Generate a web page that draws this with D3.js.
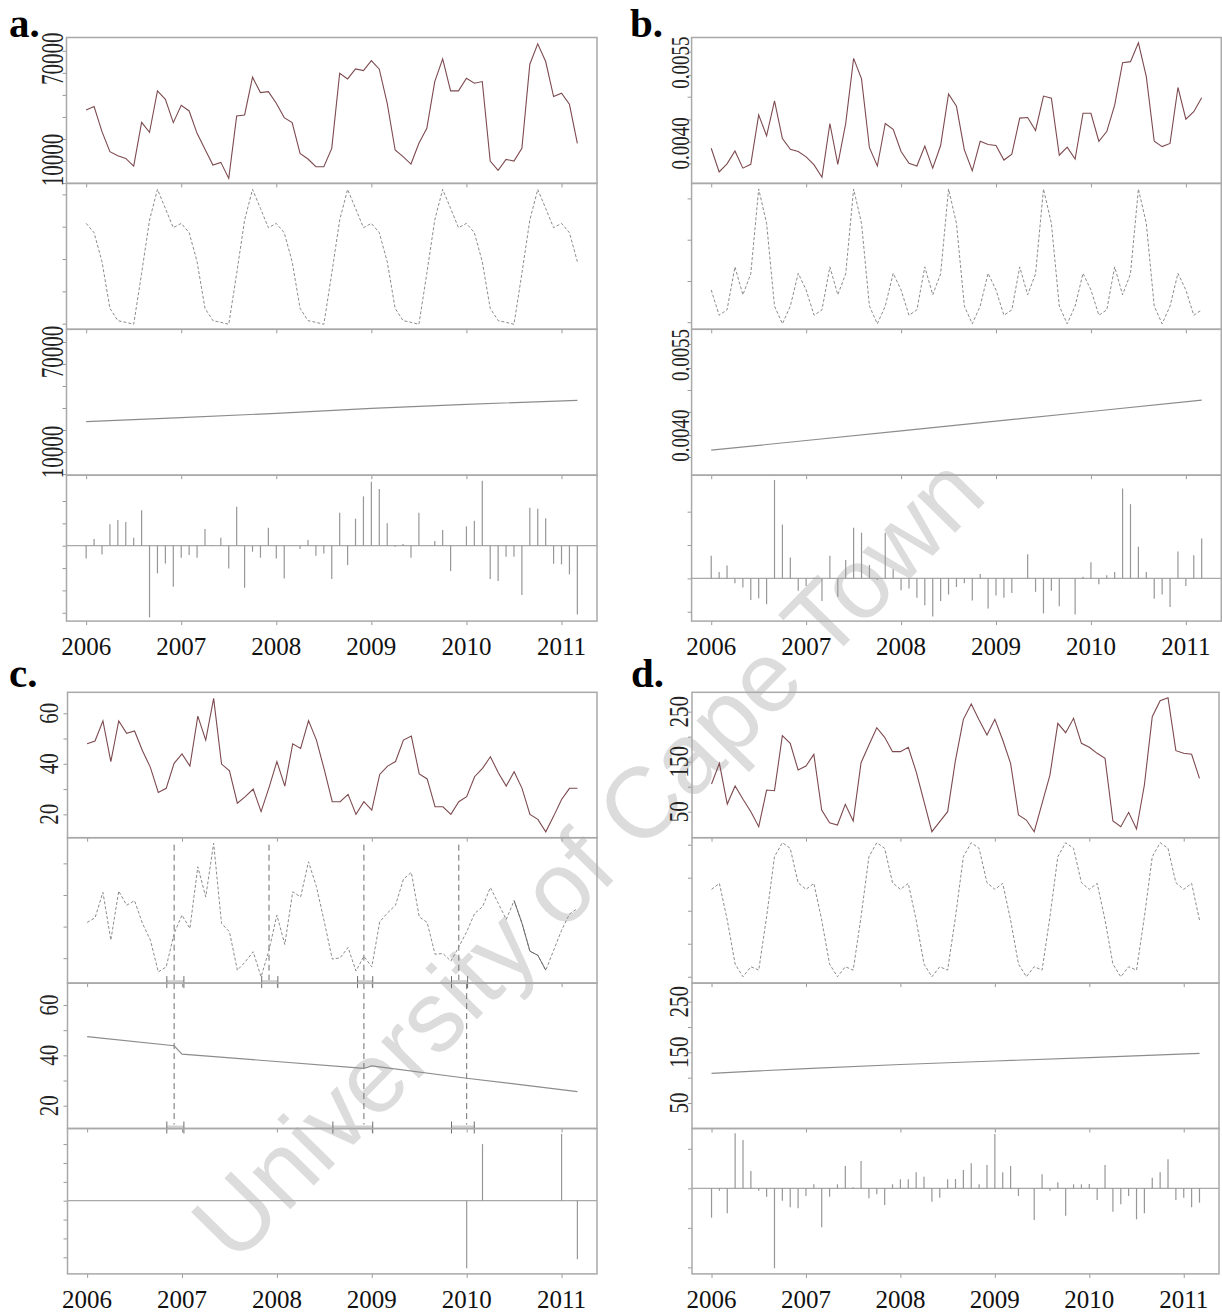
<!DOCTYPE html>
<html>
<head>
<meta charset="utf-8">
<script src="https://cdn.jsdelivr.net/npm/d3@7"></script>
<style>
  body { margin: 0; background: #fff; }
  svg { display: block; }
  .box { fill: none; stroke: #a9a9a9; stroke-width: 1.5; }
  .zero { stroke: #a9a9a9; stroke-width: 1.2; }
  .data-line { fill: none; stroke: #7d4a4f; stroke-width: 1.1; }
  .season-line { fill: none; stroke: #8c8c8c; stroke-width: 1; stroke-dasharray: 3,2; }
  .trend-line { fill: none; stroke: #8c8c8c; stroke-width: 1.2; }
  .rem-bar { stroke: #979797; stroke-width: 1.2; }
  .brk { stroke: #6e6e6e; stroke-width: 1; stroke-dasharray: 6,4; }
  .letter { font-family: "Liberation Serif", "DejaVu Serif", serif; font-weight: bold; font-size: 41px; fill: #000; }
  .xlab { font-family: "Liberation Serif", "DejaVu Serif", serif; font-size: 25px; fill: #111; }
  .ylab { font-family: "Liberation Serif", "DejaVu Serif", serif; fill: #222; }
  .mark { font-family: "Liberation Sans", Arial, sans-serif; font-size: 100px; fill: #dcdcdc; }
</style>
</head>
<body>
<svg width="1222" height="1314"></svg>
<script>
// monthly series, Jan 2006 .. Mar 2011
const yearTicks = [2006, 2007, 2008, 2009, 2010, 2011];
const dates = d3.range(63).map(i => 2006 + i / 12);

// ---- a. ----
const aData = [39700, 41680, 26830, 14950, 12570, 10990, 6440, 32370, 26430, 50990, 46040, 32180,
  42470, 39110, 25840, 16340, 7030, 8610, -890, 36140, 36730, 59100, 50000, 50590,
  43660, 35150, 32180, 13960, 10590, 6040, 6040, 16930, 61480, 58110, 64050, 63060,
  69000, 63860, 43660, 15940, 11980, 7620, 19900, 28810, 56530, 70000, 50990, 50990,
  58510, 55540, 56530, 9410, 3860, 10400, 9410, 16930, 66830, 78900, 68410, 47620,
  49600, 43070, 19900];
const aSeasonal = [19800, 14260, -2970, -30690, -38020, -39010, -40190, -9900, 21780, 40000, 28710, 17230,
  19800, 14260, -2970, -30690, -38020, -39010, -40190, -9900, 21780, 40000, 28710, 17230,
  19800, 14260, -2970, -30690, -38020, -39010, -40190, -9900, 21780, 40000, 28710, 17230,
  19800, 14260, -2970, -30690, -38020, -39010, -40190, -9900, 21780, 40000, 28710, 17230,
  19800, 14260, -2970, -30690, -38020, -39010, -40190, -9900, 21780, 40000, 28710, 17230,
  19800, 14260, -2970];
const aTrendDates = [2006, 2007, 2008, 2009, 2010, 2011.167];
const aTrendValues = [28200, 30600, 33200, 36200, 38600, 41000];
const aRemainder = [-7600, 4000, -5200, 12800, 15400, 14200, 4800, 21200, -43000, -16600, -10600, -24600,
  -7200, -5600, -7200, 10000, 400, 4800, -13600, 23400, -25200, -3600, -7200, 10800,
  -7600, -19600, 200, -2000, 3400, -6000, -4600, -20000, 19800, -11600, 16200, 29600,
  38400, 34000, 13400, -600, 1000, -7200, 19800, 200, 2800, 9400, -15200, 300,
  11600, 15000, 39000, -20000, -21200, -6600, -6600, -29600, 22800, 22200, 16400, -10800,
  -11200, -17200, -41200];
const aAxisLabels = [10000, 70000];

// ---- b. ----
const bData = [0.00391, 0.00347, 0.00362, 0.00386, 0.00354, 0.00361, 0.00453, 0.00414, 0.00479, 0.00409, 0.00389, 0.00385,
  0.00375, 0.00360, 0.00337, 0.00437, 0.00361, 0.00437, 0.00558, 0.00520, 0.00392, 0.00358, 0.00437, 0.00426,
  0.00385, 0.00363, 0.00358, 0.00395, 0.00354, 0.00396, 0.00492, 0.00469, 0.00388, 0.00349, 0.00404, 0.00398,
  0.00396, 0.00369, 0.00380, 0.00447, 0.00448, 0.00424, 0.00488, 0.00484, 0.00378, 0.00393, 0.00371, 0.00456,
  0.00456, 0.00404, 0.00422, 0.00471, 0.00550, 0.00552, 0.00587, 0.00524, 0.00404, 0.00394, 0.00400, 0.00504,
  0.00445, 0.00459, 0.00485];
const bSeasonal = [-0.00062, -0.00109, -0.00099, -0.00019, -0.00071, -0.00032, 0.00126, 0.00062, -0.00092, -0.00125, -0.00092, -0.00031,
  -0.00062, -0.00109, -0.00099, -0.00019, -0.00071, -0.00032, 0.00126, 0.00062, -0.00092, -0.00125, -0.00092, -0.00031,
  -0.00062, -0.00109, -0.00099, -0.00019, -0.00071, -0.00032, 0.00126, 0.00062, -0.00092, -0.00125, -0.00092, -0.00031,
  -0.00062, -0.00109, -0.00099, -0.00019, -0.00071, -0.00032, 0.00126, 0.00062, -0.00092, -0.00125, -0.00092, -0.00031,
  -0.00062, -0.00109, -0.00099, -0.00019, -0.00071, -0.00032, 0.00126, 0.00062, -0.00092, -0.00125, -0.00092, -0.00031,
  -0.00062, -0.00109, -0.00099];
const bTrendDates = [2006, 2007, 2008, 2009, 2010, 2011.167];
const bTrendValues = [0.00373, 0.00391, 0.00409, 0.00427, 0.00445, 0.00466];
const bRemainder = [0.00042, 0.00012, 0.00024, -0.00009, -0.00017, -0.00040, -0.00037, -0.00048, 0.00183, 0.00100, 0.00039, -0.00023,
  -0.00014, 0.00001, -0.00042, 0.00042, -0.00034, 0.00034, 0.00094, 0.00085, 0.00025, -0.00003, 0.00085, 0.00017,
  -0.00022, -0.00019, -0.00036, -0.00050, -0.00071, -0.00042, -0.00030, -0.00016, -0.00009, -0.00041, 0.00008, -0.00056,
  -0.00032, -0.00036, -0.00027, 0.00000, 0.00045, -0.00025, -0.00065, -0.00023, -0.00052, 0.00000, -0.00067, 0.00003,
  0.00030, -0.00011, 0.00006, 0.00012, 0.00167, 0.00138, 0.00059, 0.00012, -0.00038, -0.00030, -0.00053, 0.00050,
  -0.00014, 0.00043, 0.00074];
const bAxisLabels = [0.0040, 0.0055];

// ---- c. ----
const cData = [47.9, 49.0, 57.0, 40.9, 57.0, 52.1, 53.0, 45.2, 38.6, 28.7, 30.3, 40.2,
  43.9, 39.1, 58.9, 49.4, 65.9, 39.9, 37.2, 24.4, 27.0, 30.0, 21.1, 30.6,
  40.9, 31.2, 47.9, 46.1, 57.1, 49.4, 37.6, 25.0, 25.0, 27.9, 20.0, 25.0,
  21.7, 35.8, 39.1, 40.9, 49.4, 51.0, 36.0, 34.0, 23.0, 23.0, 20.0, 25.0,
  27.0, 34.9, 38.2, 42.8, 36.5, 31.2, 36.9, 30.3, 20.0, 18.0, 13.1, 19.3,
  25.9, 30.3, 30.3];
const cSeasonal = [-4.6, -2.8, 7.3, -11.6, 7.8, 2.2, 4.0, -5.0, -11.6, -24.2, -22.2, -9.0,
  -1.7, -7.0, 17.4, 5.5, 26.7, -5.0, -8.3, -23.5, -20.2, -16.2, -26.1, -15.6,
  -1.7, -13.3, 7.5, 5.5, 19.4, 9.5, -4.4, -19.1, -18.6, -14.5, -23.8, -18.0,
  -22.2, -4.4, -0.8, 2.2, 12.5, 15.2, -2.4, -4.6, -17.2, -16.9, -19.9, -14.3,
  -8.3, -1.1, 1.6, 9.2, 2.9, -3.4, 4.0, -5.0, -16.0, -17.6, -23.5, -15.6,
  -7.7, -1.3, 0.9];
const cTrendDates = [2006, 2006.917, 2007, 2008.917, 2009, 2010, 2011.167];
const cTrendValues = [47.4, 43.8, 40.5, 34.8, 35.8, 30.9, 25.6];
const cRemainder = [0, 0, 0, 0, 0, 0, 0, 0, 0, 0, 0, 0,
  0, 0, 0, 0, 0, 0, 0, 0, 0, 0, 0, 0,
  0, 0, 0, 0, 0, 0, 0, 0, 0, 0, 0, 0,
  0, 0, 0, 0, 0, 0, 0, 0, 0, 0, 0, 0,
  -26.9, 0, 22.5, 0, 0, 0, 0, 0, 0, 0, 0, 0,
  26.5, 0, -23.3];
const cAxisLabels = [20, 40, 60];
// breakpoints and their confidence intervals
const cSeasonBreaks = [2006.917, 2007.917, 2008.917, 2009.917];
const cSeasonCI = [[2006.84, 2007.02], [2007.84, 2008.01], [2008.85, 2009.01], [2009.84, 2010.01]];
const cTrendBreaks = [2006.917, 2008.917, 2010.0];
const cTrendCI = [[2006.84, 2007.02], [2008.59, 2009.01], [2009.84, 2010.08]];

// ---- d. ----
const dData = [105.3, 146.7, 65.3, 101.3, 74.7, 50, 20, 93.3, 92, 202, 186.7, 133.3,
  141.3, 164.7, 53.3, 28, 23.3, 64.7, 31.3, 148, 183.3, 218, 198.7, 170,
  170, 178.7, 130, 70, 10, 30, 50, 153.3, 234.7, 265.3, 233.3, 203.3,
  234.7, 193.3, 146.7, 43.3, 33.3, 10, 66.7, 123.3, 226.7, 208, 236.7, 186.7,
  178.7, 166.7, 156.7, 31.3, 20, 48.7, 15.3, 103.3, 240, 272, 278, 172,
  166.7, 164.7, 116.7];
const dSeasonal = [42.7, 54.7, -18.7, -106.7, -132, -112, -118.7, -12, 108, 136, 124.7, 56,
  42.7, 54.7, -18.7, -106.7, -132, -112, -118.7, -12, 108, 136, 124.7, 56,
  42.7, 54.7, -18.7, -106.7, -132, -112, -118.7, -12, 108, 136, 124.7, 56,
  42.7, 54.7, -18.7, -106.7, -132, -112, -118.7, -12, 108, 136, 124.7, 56,
  42.7, 54.7, -18.7, -106.7, -132, -112, -118.7, -12, 108, 136, 124.7, 56,
  42.7, 54.7, -18.7];
const dTrendDates = [2006, 2007, 2008, 2009, 2010, 2011.167];
const dTrendValues = [108.6, 118, 126, 132.9, 139.5, 148];
const dRemainder = [-57.9, -4.6, -49.3, 108.6, 95.4, 34.2, -4.6, -16.4, -157.9, -24.3, -37.5, -39.5,
  -15.1, 7.9, -77, -16.4, 7.9, 44.1, 2, 53.9, -19.7, -11.8, -32.9, 7.9,
  17.8, 17.8, 31.6, 23, -26.3, -18.4, 17.8, 18.4, 36.2, 49.3, 7.9, 46.1,
  107.2, 31.6, 44.1, -15.1, 0, -62.5, 27.6, -4.6, 11.8, -53.9, 7.9, 7.9,
  8.6, -23, 46.1, -46.1, -31.6, -15.1, -61.2, -49.3, 21.1, 31.6, 57.2, -23,
  -18.4, -37.5, -28.3];
const dAxisLabels = [50, 150, 250];

const svg = d3.select("svg");

// watermark sits under the plots
svg.append("text")
  .attr("class", "mark")
  .attr("text-anchor", "middle")
  .attr("transform", "translate(612,882) rotate(-45.5)")
  .text("University of Cape Town");

const panels = [
  { name: "a", left: 66.5, right: 597, top: 37.5, h: 145.9, letterX: 9, letterY: 37,
    labelX: 63, labelSize: 21, stretch: 1.55, fmt: d3.format("d"),
    rows: [
      { kind: "data", values: aData, domain: [-3860, 82670], ticks: [-3660, 9410, 22480, 35550, 48620, 61690, 74760], labels: aAxisLabels },
      { kind: "season", values: aSeasonal, domain: [-43160, 43560], ticks: [-39800, -20590, -1390, 17820, 37030] },
      { kind: "trend", dates: aTrendDates, values: aTrendValues, domain: [-3920, 83600], ticks: [-3200, 10000, 23200, 36400, 49600, 62800, 76000], labels: aAxisLabels },
      { kind: "remainder", values: aRemainder, domain: [-45200, 42280], ticks: [-40200, -26800, -13400, 0, 13400, 26800] }
    ] },
  { name: "b", left: 691.6, right: 1221.3, top: 37.5, h: 145.9, letterX: 630, letterY: 37,
    labelX: 689, labelSize: 19, stretch: 1.3, fmt: d3.format(".4f"),
    rows: [
      { kind: "data", values: bData, domain: [0.003256, 0.005969], ticks: [0.003628, 0.004031, 0.004446, 0.004868, 0.005271, 0.005705], labels: bAxisLabels },
      { kind: "season", values: bSeasonal, domain: [-0.001352, 0.001364], ticks: [-0.00122, -0.000453, 0.000316, 0.001085] },
      { kind: "trend", dates: bTrendDates, values: bTrendValues, domain: [0.003265, 0.005978], ticks: [0.003603, 0.004012, 0.00444, 0.004849, 0.005259, 0.005705], labels: bAxisLabels },
      { kind: "remainder", values: bRemainder, domain: [-0.000794, 0.001918], ticks: [-0.00062, 0, 0.00062, 0.00124] }
    ] },
  { name: "c", left: 67.5, right: 597, top: 692.3, h: 145.4, letterX: 9, letterY: 687,
    labelX: 58, labelSize: 21, stretch: 1.35, fmt: d3.format("d"),
    rows: [
      { kind: "data", values: cData, domain: [10.76, 68.3], ticks: [20, 30, 40, 50, 60], labels: cAxisLabels },
      { kind: "season", values: cSeasonal, domain: [-28.6, 28.9], ticks: [-18.75, -6.25, 6.25, 18.75],
        breaks: cSeasonBreaks, ciBottom: cSeasonCI, solidFrom: 54, solidTo: 58 },
      { kind: "trend", dates: cTrendDates, values: cTrendValues, domain: [10.93, 68.7], ticks: [20, 30, 40, 50, 60], labels: cAxisLabels,
        breaks: cTrendBreaks, ciBottom: cTrendCI },
      { kind: "remainder", values: cRemainder, domain: [-29.1, 28.7], ticks: [-22.5, -15, -7.5, 0, 7.5, 15, 22.5] }
    ] },
  { name: "d", left: 692, right: 1219, top: 692.3, h: 145.4, letterX: 631, letterY: 687,
    labelX: 688, labelSize: 21, stretch: 1.3, fmt: d3.format("d"),
    rows: [
      { kind: "data", values: dData, domain: [-2, 288.7], ticks: [50, 100, 150, 200, 250], labels: dAxisLabels },
      { kind: "season", values: dSeasonal, domain: [-144.7, 146], ticks: [-132, -66, 0, 66, 132] },
      { kind: "trend", dates: dTrendDates, values: dTrendValues, domain: [-0.3, 286.6], ticks: [50, 100, 150, 200, 250], labels: dAxisLabels },
      { kind: "remainder", values: dRemainder, domain: [-168.9, 118.1], ticks: [-156, -78, 0, 78] }
    ] }
];

const drawBrackets = (g, x, ci, yc) => {
  ci.forEach(([lo, hi]) => {
    g.append("rect")
      .attr("x", x(lo)).attr("y", yc - 2)
      .attr("width", x(hi) - x(lo)).attr("height", 4)
      .attr("fill", "#d2d2d2");
    [lo, hi].forEach(t => {
      g.append("line")
        .attr("x1", x(t)).attr("x2", x(t))
        .attr("y1", yc - 6).attr("y2", yc + 6)
        .attr("stroke", "#6e6e6e").attr("stroke-width", 1);
    });
  });
};

const drawPanel = (p) => {
  const x = d3.scaleLinear().domain([2005.7933, 2011.3733]).range([p.left, p.right]);
  const g = svg.append("g").attr("class", "panel-" + p.name);

  g.append("text")
    .attr("class", "letter")
    .attr("x", p.letterX)
    .attr("y", p.letterY)
    .text(p.name + ".");

  p.rows.forEach((row, k) => {
    const top = p.top + k * p.h;
    const bottom = top + p.h;
    const y = d3.scaleLinear().domain(row.domain).range([bottom, top]);

    // y ticks, no labels drawn by the axis
    g.append("g")
      .attr("transform", "translate(" + p.left + ",0)")
      .attr("color", "#9a9a9a")
      .call(d3.axisLeft(y).tickValues(row.ticks).tickSize(4).tickFormat(""))
      .call(a => a.select(".domain").remove());

    // year ticks at the bottom of every row
    g.append("g")
      .attr("transform", "translate(0," + bottom + ")")
      .attr("color", "#9a9a9a")
      .call(d3.axisBottom(x).tickValues(yearTicks).tickSize(4).tickFormat(""))
      .call(a => a.select(".domain").remove());

    if (row.breaks) {
      row.breaks.forEach(t => {
        g.append("line")
          .attr("class", "brk")
          .attr("x1", x(t)).attr("x2", x(t))
          .attr("y1", top + (row.kind === "season" ? 7 : 0))
          .attr("y2", bottom - (row.kind === "trend" ? 4 : 0));
      });
    }

    if (row.kind === "data") {
      g.append("path")
        .datum(row.values)
        .attr("class", "data-line")
        .attr("d", d3.line().x((d, i) => x(dates[i])).y(d => y(d)));
    } else if (row.kind === "season") {
      g.append("path")
        .datum(row.values)
        .attr("class", "season-line")
        .attr("d", d3.line().x((d, i) => x(dates[i])).y(d => y(d)));
      if (row.solidFrom !== undefined) {
        const idx = d3.range(row.solidFrom, row.solidTo + 1);
        g.append("path")
          .datum(idx)
          .attr("fill", "none").attr("stroke", "#6a6a6a").attr("stroke-width", 1)
          .attr("d", d3.line().x(i => x(dates[i])).y(i => y(row.values[i])));
      }
    } else if (row.kind === "trend") {
      g.append("path")
        .datum(row.values)
        .attr("class", "trend-line")
        .attr("d", d3.line().x((d, i) => x(row.dates[i])).y(d => y(d)));
    } else {
      g.append("line")
        .attr("class", "zero")
        .attr("x1", p.left).attr("x2", p.right)
        .attr("y1", y(0)).attr("y2", y(0));
      g.selectAll(".rem-bar-" + k)
        .data(row.values)
        .enter().append("line")
          .attr("class", "rem-bar")
          .attr("x1", (d, i) => x(dates[i]))
          .attr("x2", (d, i) => x(dates[i]))
          .attr("y1", y(0))
          .attr("y2", d => y(d));
    }

    g.append("rect")
      .attr("class", "box")
      .attr("x", p.left).attr("y", top)
      .attr("width", p.right - p.left).attr("height", p.h);

    if (row.ciBottom) {
      drawBrackets(g, x, row.ciBottom, bottom - 1);
    }

    (row.labels || []).forEach(v => {
      g.append("text")
        .attr("class", "ylab")
        .attr("text-anchor", "middle")
        .style("font-size", p.labelSize + "px")
        .attr("transform", "translate(" + p.labelX + "," + y(v) + ") rotate(-90) scale(1," + p.stretch + ")")
        .text(p.fmt(v));
    });

    if (k === p.rows.length - 1) {
      g.selectAll(".xlab")
        .data(yearTicks)
        .enter().append("text")
          .attr("class", "xlab")
          .attr("text-anchor", "middle")
          .attr("x", d => x(d))
          .attr("y", bottom + 34)
          .text(d => d);
    }
  });
};

panels.forEach(drawPanel);
</script>
</body>
</html>
